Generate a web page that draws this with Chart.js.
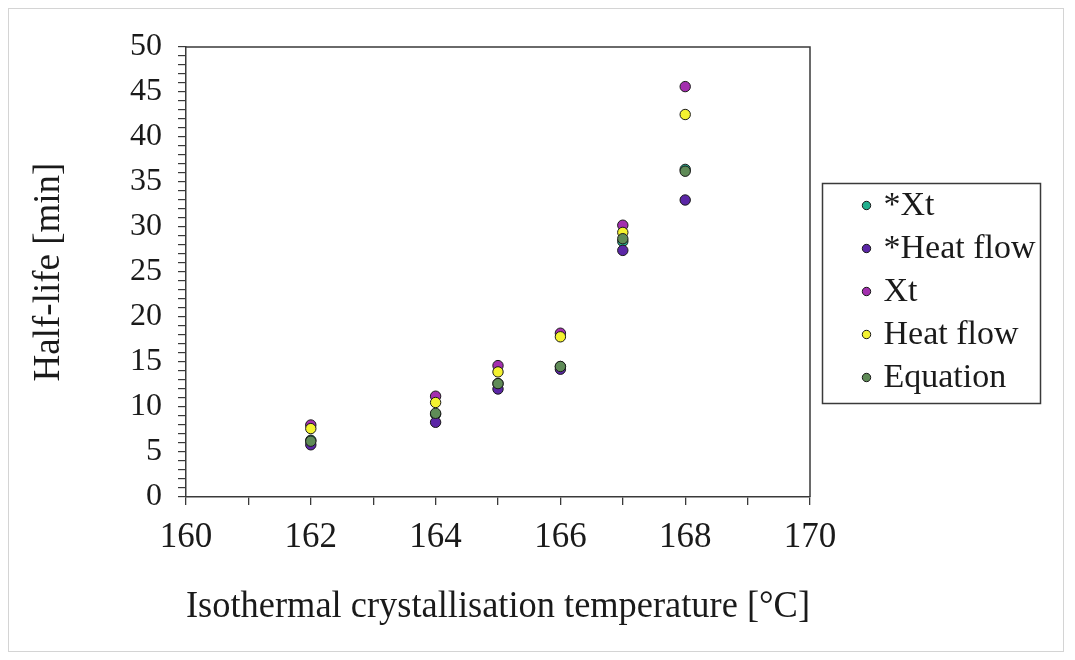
<!DOCTYPE html>
<html>
<head>
<meta charset="utf-8">
<script src="https://cdn.jsdelivr.net/npm/chart.js@4.4.1/dist/chart.umd.min.js"></script>
<style>
  html, body { margin: 0; padding: 0; background: #ffffff; }
  #wrap { position: relative; width: 1075px; height: 660px; }
</style>
</head>
<body>
<div id="wrap"><canvas id="c" width="1075" height="660"></canvas></div>
<script>
// ---- data ----
const temperatures = [162, 164, 165, 166, 167, 168];
const starXt       = [6.3, 9.2, 12.6, 14.5, 28.4, 36.4];
const starHeatFlow = [5.8, 8.3, 12.0, 14.2, 27.4, 33.0];
const xt           = [8.0, 11.2, 14.6, 18.2, 30.2, 45.6];
const heatFlow     = [7.6, 10.5, 13.9, 17.8, 29.4, 42.5];
const equation     = [6.2, 9.3, 12.6, 14.5, 28.7, 36.2];
const seriesNames  = ['*Xt', '*Heat flow', 'Xt', 'Heat flow', 'Equation'];
const seriesColors = ['#22b08e', '#5b26a6', '#a32fae', '#f4f230', '#5f8b57'];
const xTicks = [160, 162, 164, 166, 168, 170];
const yTicks = [0, 5, 10, 15, 20, 25, 30, 35, 40, 45, 50];
const xTitle = 'Isothermal crystallisation temperature [°C]';
const yTitle = 'Half-life [min]';

const allSeries = [starXt, starHeatFlow, xt, heatFlow, equation];
const FONT = '"Liberation Serif", "Times New Roman", serif';

const datasets = allSeries.map((vals, i) => ({
  label: seriesNames[i],
  data: temperatures.map((t, j) => ({ x: t, y: vals[j] })),
  backgroundColor: seriesColors[i],
  borderColor: '#1a1a1a',
  borderWidth: 1,
  pointRadius: 5.2,
  pointHoverRadius: 5.2,
  showLine: false,
  order: allSeries.length - i   // later series drawn on top, as in the original
}));

const framePlugin = {
  id: 'frame',
  beforeDraw(chart) {
    const ctx = chart.ctx;
    ctx.save();
    ctx.fillStyle = '#ffffff';
    ctx.fillRect(0, 0, chart.width, chart.height);
    ctx.strokeStyle = '#d4d4d4';
    ctx.lineWidth = 1;
    ctx.strokeRect(8.5, 8.5, 1055, 643);
    ctx.restore();
  },
  afterDatasetsDraw(chart) {
    const a = chart.chartArea;
    const ctx = chart.ctx;
    ctx.save();
    ctx.strokeStyle = '#3a3a3a';
    ctx.lineWidth = 1.5;
    ctx.beginPath();
    ctx.moveTo(a.left, a.top);
    ctx.lineTo(a.right, a.top);
    ctx.lineTo(a.right, a.bottom);
    ctx.stroke();
    ctx.restore();
  },
  afterDraw(chart) {
    const ctx = chart.ctx;
    ctx.save();
    // legend box
    const bx = 822.5, by = 183.5, bw = 218, bh = 220;
    ctx.strokeStyle = '#3a3a3a';
    ctx.lineWidth = 1.5;
    ctx.strokeRect(bx, by, bw, bh);
    ctx.font = '34px ' + FONT;
    ctx.textBaseline = 'middle';
    ctx.textAlign = 'left';
    chart.data.datasets.forEach((ds, i) => {
      const cy = by + 22 + i * 43;
      ctx.beginPath();
      ctx.arc(bx + 44, cy, 4.2, 0, Math.PI * 2);
      ctx.fillStyle = ds.backgroundColor;
      ctx.fill();
      ctx.lineWidth = 1;
      ctx.strokeStyle = '#1a1a1a';
      ctx.stroke();
      ctx.fillStyle = '#1a1a1a';
      ctx.fillText(ds.label, bx + 61, cy + 1);
    });
    ctx.restore();
  }
};

new Chart(document.getElementById('c'), {
  type: 'scatter',
  data: { datasets },
  plugins: [framePlugin],
  options: {
    responsive: false,
    animation: false,
    devicePixelRatio: 1,
    layout: { padding: { left: 0, top: 47, right: 265, bottom: 0 } },
    plugins: { legend: { display: false }, tooltip: { enabled: false } },
    scales: {
      x: {
        type: 'linear',
        min: xTicks[0],
        max: xTicks[xTicks.length - 1],
        afterFit: (s) => { s.height = 163; },
        ticks: {
          stepSize: 1,
          autoSkip: false,
          maxRotation: 0,
          padding: 12,
          color: '#1a1a1a',
          font: { family: FONT, size: 35 },
          callback: (v) => (xTicks.includes(v) ? String(v) : '')
        },
        grid: { drawOnChartArea: false, tickLength: 8, color: '#3a3a3a', lineWidth: 1.3 },
        border: { color: '#3a3a3a', width: 1.5 },
        title: {
          display: true,
          text: xTitle,
          color: '#1a1a1a',
          font: { family: FONT, size: 38 },
          padding: { top: 0, bottom: 30 }
        }
      },
      y: {
        type: 'linear',
        min: yTicks[0],
        max: yTicks[yTicks.length - 1],
        afterFit: (s) => { s.width = 186; },
        ticks: {
          stepSize: 1,
          autoSkip: false,
          padding: 16,
          color: '#1a1a1a',
          font: { family: FONT, size: 32 },
          callback: (v) => (yTicks.includes(v) ? String(v) : '')
        },
        grid: { drawOnChartArea: false, tickLength: 8, color: '#3a3a3a', lineWidth: 1.2 },
        border: { color: '#3a3a3a', width: 1.5 },
        title: {
          display: true,
          text: yTitle,
          color: '#1a1a1a',
          font: { family: FONT, size: 37 },
          padding: { top: 27, bottom: 0 }
        }
      }
    }
  }
});
</script>
</body>
</html>
